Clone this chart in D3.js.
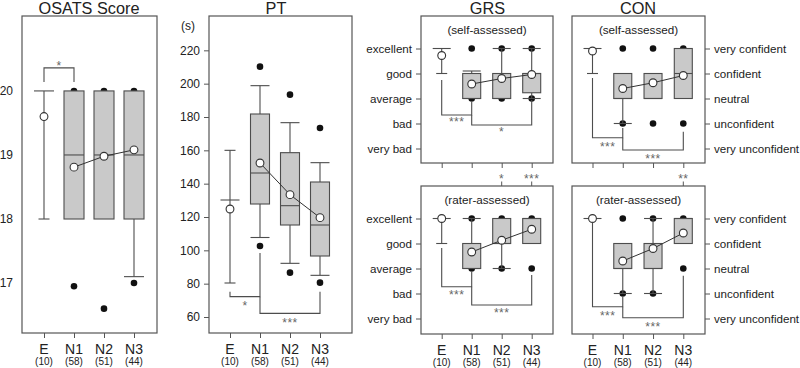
<!DOCTYPE html>
<html><head><meta charset="utf-8">
<script src="https://cdn.jsdelivr.net/npm/d3@7"></script>
<style>body{margin:0;background:#fff}svg{display:block}text{font-family:"Liberation Sans",Arial,Helvetica,sans-serif}</style>
</head><body><svg id="c" width="800" height="368"></svg>
<script>
// ---------------- data ----------------
const groups = ["E","N1","N2","N3"];
const counts = ["(10)","(58)","(51)","(44)"];
const osatsTicks = [17,18,19,20];
const ptTicks = [60,80,100,120,140,160,180,200,220];
const levelTicks = [1,2,3,4,5];
const grsLevels = ["very bad","bad","average","good","excellent"];
const conLevels = ["very unconfident","unconfident","neutral","confident","very confident"];

// E: lo/med/hi (no box); novices: q1, med, q3, whisker lo/hi, mean, outliers
const osatsStats = [
  {lo:18, med:20, hi:20, mean:19.6, out:[]},
  {q1:18, med:19, q3:20, lo:18, hi:20, mean:18.81, out:[20,16.95]},
  {q1:18, med:19, q3:20, lo:18, hi:20, mean:18.98, out:[20,16.6]},
  {q1:18, med:19, q3:20, lo:17.1, hi:20, mean:19.08, out:[20,17.0]}
];
const ptStats = [
  {lo:80.4, med:130.2, hi:160, mean:124.8, out:[]},
  {q1:127.8, med:146.4, q3:181.8, lo:107.7, hi:198.8, mean:152.4, out:[210.2,102.6]},
  {q1:115.2, med:126.8, q3:158.6, lo:92.2, hi:176.6, mean:133.4, out:[193.4,86.6]},
  {q1:96.6, med:115.2, q3:141, lo:85, hi:152.6, mean:119.6, out:[173.4,80.6]}
];
const grsSelfStats = [
  {lo:4, med:5, hi:5, mean:4.72, out:[]},
  {q1:3, med:3, q3:4, lo:3, hi:4.1, mean:3.58, out:[5,3]},
  {q1:3, med:3, q3:4, lo:3, hi:5, mean:3.8, out:[5,3]},
  {q1:3.23, med:4, q3:4, lo:3, hi:5, mean:3.96, out:[5,3]}
];
const grsRaterStats = [
  {lo:4, med:5, hi:5, mean:5, out:[]},
  {q1:3, med:3, q3:4, lo:3, hi:5, mean:3.66, out:[5,3]},
  {q1:4, med:4, q3:5, lo:3, hi:5, mean:4.13, out:[5,3]},
  {q1:4, med:5, q3:5, lo:4, hi:5, mean:4.57, out:[5,3]}
];
const conSelfStats = [
  {lo:4, med:5, hi:5, mean:4.9, out:[]},
  {q1:3, med:3, q3:4, lo:2, hi:4, mean:3.4, out:[5,2]},
  {q1:3, med:3, q3:4, lo:3, hi:4, mean:3.63, out:[5,2]},
  {q1:3, med:4, q3:5, lo:3, hi:5, mean:3.92, out:[5,2]}
];
const conRaterStats = [
  {lo:5, med:5, hi:5, mean:5, out:[]},
  {q1:3, med:3, q3:4, lo:2, hi:4, mean:3.3, out:[5,2]},
  {q1:3, med:3, q3:4, lo:2, hi:5, mean:3.8, out:[5,2]},
  {q1:4, med:5, q3:5, lo:4, hi:5, mean:4.42, out:[5,3]}
];
// significance brackets: group a -> group b, vertical ends ea/eb, bar level, label
const osatsBrackets = [{a:0,b:1,ea:20.14,eb:20.14,bar:20.36,label:"*",pos:"above"}];
const ptBrackets = [
  {a:0,b:1,ea:75.2,eb:98.4,bar:72.2,label:"*",pos:"below"},
  {a:1,b:3,ea:72.2,eb:75.2,bar:62.2,label:"***",pos:"below"}
];
const grsSelfBrackets = [
  {a:0,b:1,ea:3.74,eb:2.86,bar:2.34,label:"***",pos:"below"},
  {a:1,b:3,ea:2.34,eb:2.94,bar:1.94,label:"*",pos:"below"}
];
const grsRaterBrackets = [
  {a:0,b:1,ea:3.82,eb:2.86,bar:2.27,label:"***",pos:"below"},
  {a:1,b:3,ea:2.27,eb:2.74,bar:1.54,label:"***",pos:"below"}
];
const conSelfBrackets = [
  {a:0,b:1,ea:3.82,eb:1.82,bar:1.43,label:"***",pos:"below"},
  {a:1,b:3,ea:1.43,eb:1.67,bar:0.94,label:"***",pos:"below"}
];
const conRaterBrackets = [
  {a:0,b:1,ea:4.84,eb:1.86,bar:1.47,label:"***",pos:"below"},
  {a:1,b:3,ea:1.47,eb:2.71,bar:1.03,label:"***",pos:"below"}
];
// self vs rater comparisons
const grsPairStars = [{g:"N2",label:"*"},{g:"N3",label:"***"}];
const conPairStars = [{g:"N3",label:"**"}];

// ---------------- drawing ----------------
const svg = d3.select("#c");
const LINE = "#4d4d4d", FRAME = "#555", TXT = "#222", STAR = "#666";
const BOXFILL = "#c9c9c9";

function panel(cfg) {
  const g = svg.append("g");
  const x = d3.scalePoint().domain(groups).range(cfg.xr);
  const y = d3.scaleLinear().domain(cfg.yd).range([cfg.fy1, cfg.fy0]);
  const hw = cfg.hw || 9.5, cw = 5.5;

  // frame
  g.append("rect").attr("x", cfg.fx0).attr("y", cfg.fy0)
    .attr("width", cfg.fx1 - cfg.fx0).attr("height", cfg.fy1 - cfg.fy0)
    .attr("fill", "none").attr("stroke", FRAME).attr("stroke-width", 1.2);

  // bottom axis ticks
  const bx = g.append("g").attr("transform", `translate(0,${cfg.fy1})`)
    .call(d3.axisBottom(x).tickSize(5).tickFormat(""));
  bx.select(".domain").remove();
  bx.selectAll("line").attr("stroke", FRAME).attr("stroke-width", 1);

  // y axis
  if (cfg.yTicks) {
    const axisFn = cfg.right ? d3.axisRight(y) : d3.axisLeft(y);
    const ya = g.append("g").attr("transform", `translate(${cfg.right ? cfg.fx1 : cfg.fx0},0)`)
      .call(axisFn.tickValues(cfg.yTicks).tickSize(cfg.tickSize).tickPadding(cfg.tickPad)
        .tickFormat(cfg.yFormat || (d => d)));
    ya.select(".domain").remove();
    ya.selectAll("line").attr("stroke", FRAME).attr("stroke-width", 1);
    ya.selectAll("text").attr("font-size", cfg.yFont || 12).attr("fill", TXT)
      .style("font-family", '"Liberation Sans",Arial,sans-serif');
  }

  // category labels
  if (cfg.catLabels) {
    groups.forEach((gname, i) => {
      g.append("text").attr("x", x(gname)).attr("y", cfg.fy1 + 21).attr("text-anchor", "middle")
        .attr("font-size", 14).attr("fill", TXT).text(gname);
      g.append("text").attr("x", x(gname)).attr("y", cfg.fy1 + 31.5).attr("text-anchor", "middle")
        .attr("font-size", 10).attr("fill", TXT).text(counts[i]);
    });
  }

  const stats = cfg.stats;
  // outliers (behind boxes)
  stats.forEach((s, i) => {
    (s.out || []).forEach(v => {
      g.append("circle").attr("cx", x(groups[i])).attr("cy", y(v)).attr("r", 3.3).attr("fill", "#111");
    });
  });

  const line = (x1, y1, x2, y2, col, w) => g.append("line").attr("x1", x1).attr("y1", y1)
    .attr("x2", x2).attr("y2", y2).attr("stroke", col || LINE).attr("stroke-width", w || 1.1);

  stats.forEach((s, i) => {
    const cx = x(groups[i]);
    if (s.q1 === undefined) {
      // expert group: no box
      if (s.lo < s.hi) line(cx, y(s.lo), cx, y(s.hi));
      if (s.lo !== s.med) line(cx - cw, y(s.lo), cx + cw, y(s.lo));
      if (s.hi !== s.med) line(cx - cw, y(s.hi), cx + cw, y(s.hi));
      line(cx - hw, y(s.med), cx + hw, y(s.med));
    } else {
      if (s.hi > s.q3) { line(cx, y(s.q3), cx, y(s.hi)); line(cx - hw, y(s.hi), cx + hw, y(s.hi)); }
      if (s.lo < s.q1) { line(cx, y(s.q1), cx, y(s.lo)); line(cx - hw, y(s.lo), cx + hw, y(s.lo)); }
      g.append("rect").attr("x", cx - hw).attr("y", y(s.q3)).attr("width", 2 * hw)
        .attr("height", y(s.q1) - y(s.q3)).attr("fill", BOXFILL).attr("stroke", LINE).attr("stroke-width", 1.1);
      line(cx - hw, y(s.med), cx + hw, y(s.med));
    }
  });

  // mean line N1-N3
  const meanPts = stats.slice(1).map((s, i) => [x(groups[i + 1]), y(s.mean)]);
  g.append("path").attr("d", d3.line()(meanPts)).attr("fill", "none").attr("stroke", "#333").attr("stroke-width", 1);
  stats.forEach((s, i) => {
    g.append("circle").attr("cx", x(groups[i])).attr("cy", y(s.mean)).attr("r", 3.9)
      .attr("fill", "#fff").attr("stroke", "#333").attr("stroke-width", 1.1);
  });

  // brackets
  (cfg.brackets || []).forEach(b => {
    const xa = x(groups[b.a]), xb = x(groups[b.b]), yb = y(b.bar);
    g.append("path").attr("d", `M${xa},${y(b.ea)}V${yb}H${xb}V${y(b.eb)}`)
      .attr("fill", "none").attr("stroke", LINE).attr("stroke-width", 1.1);
    const cyStar = b.pos === "above" ? yb - 5 : yb + (cfg.starOff || 6.5);
    g.append("text").attr("x", (xa + xb) / 2).attr("y", cyStar + 7).attr("text-anchor", "middle")
      .attr("font-size", 12).attr("fill", STAR).attr("letter-spacing", 0.5).text(b.label);
  });

  // subtitle
  if (cfg.sub) {
    g.append("text").attr("x", (cfg.fx0 + cfg.fx1) / 2).attr("y", cfg.fy0 + 18).attr("text-anchor", "middle")
      .attr("font-size", 11.7).attr("fill", TXT).text(cfg.sub);
  }
  if (cfg.title) {
    g.append("text").attr("x", cfg.titleX).attr("y", 14).attr("text-anchor", "middle")
      .attr("font-size", 16.3).attr("fill", TXT).text(cfg.title);
  }
  return {x, y, g};
}

panel({title:"OSATS Score", titleX:89, fx0:22, fx1:157, fy0:16, fy1:333, xr:[44,134], yd:[16.22,21.17],
  yTicks:osatsTicks, tickSize:0, tickPad:9, stats:osatsStats, brackets:osatsBrackets, catLabels:true, hw:10});

panel({title:"PT", titleX:276, fx0:209, fx1:352, fy0:16, fy1:333, xr:[230,320], yd:[50.4,240.6],
  yTicks:ptTicks, tickSize:5, tickPad:4, stats:ptStats, brackets:ptBrackets, catLabels:true});
svg.append("text").attr("x", 195).attr("y", 30).attr("text-anchor", "end").attr("font-size", 12)
  .attr("fill", TXT).text("(s)");

const grsTop = panel({title:"GRS", titleX:487.5, sub:"(self-assessed)", fx0:421, fx1:553, fy0:16, fy1:163,
  xr:[441.7,531.7], yd:[0.42,6.3], yTicks:levelTicks, yFormat:d => grsLevels[d - 1], yFont:11.6,
  tickSize:5, tickPad:4, stats:grsSelfStats, brackets:grsSelfBrackets, hw:9, starOff:4});
const grsBot = panel({sub:"(rater-assessed)", fx0:421, fx1:553, fy0:186, fy1:334,
  xr:[441.7,531.7], yd:[0.38,6.3], yTicks:levelTicks, yFormat:d => grsLevels[d - 1], yFont:11.6,
  tickSize:5, tickPad:4, stats:grsRaterStats, brackets:grsRaterBrackets, catLabels:true, hw:9, starOff:5});
const conTop = panel({title:"CON", titleX:638, sub:"(self-assessed)", fx0:572, fx1:705, fy0:16, fy1:163,
  xr:[592.5,683.3], yd:[0.42,6.3], yTicks:levelTicks, yFormat:d => conLevels[d - 1], yFont:11.6, right:true,
  tickSize:5, tickPad:4, stats:conSelfStats, brackets:conSelfBrackets, hw:9, starOff:6});
const conBot = panel({sub:"(rater-assessed)", fx0:572, fx1:705, fy0:186, fy1:334,
  xr:[592.5,683.3], yd:[0.38,6.3], yTicks:levelTicks, yFormat:d => conLevels[d - 1], yFont:11.6, right:true,
  tickSize:5, tickPad:4, stats:conRaterStats, brackets:conRaterBrackets, catLabels:true, hw:9, starOff:6});

// self vs rater comparison marks between panels
function pairStars(top, list) {
  list.forEach(p => {
    const cx = top.x(p.g);
    svg.append("text").attr("x", cx).attr("y", 176 + 7).attr("text-anchor", "middle")
      .attr("font-size", 12).attr("fill", STAR).attr("letter-spacing", 0.5).text(p.label);
    svg.append("line").attr("x1", cx).attr("x2", cx).attr("y1", 181.5).attr("y2", 186)
      .attr("stroke", FRAME).attr("stroke-width", 1);
  });
}
pairStars(grsTop, grsPairStars);
pairStars(conTop, conPairStars);
</script></body></html>
